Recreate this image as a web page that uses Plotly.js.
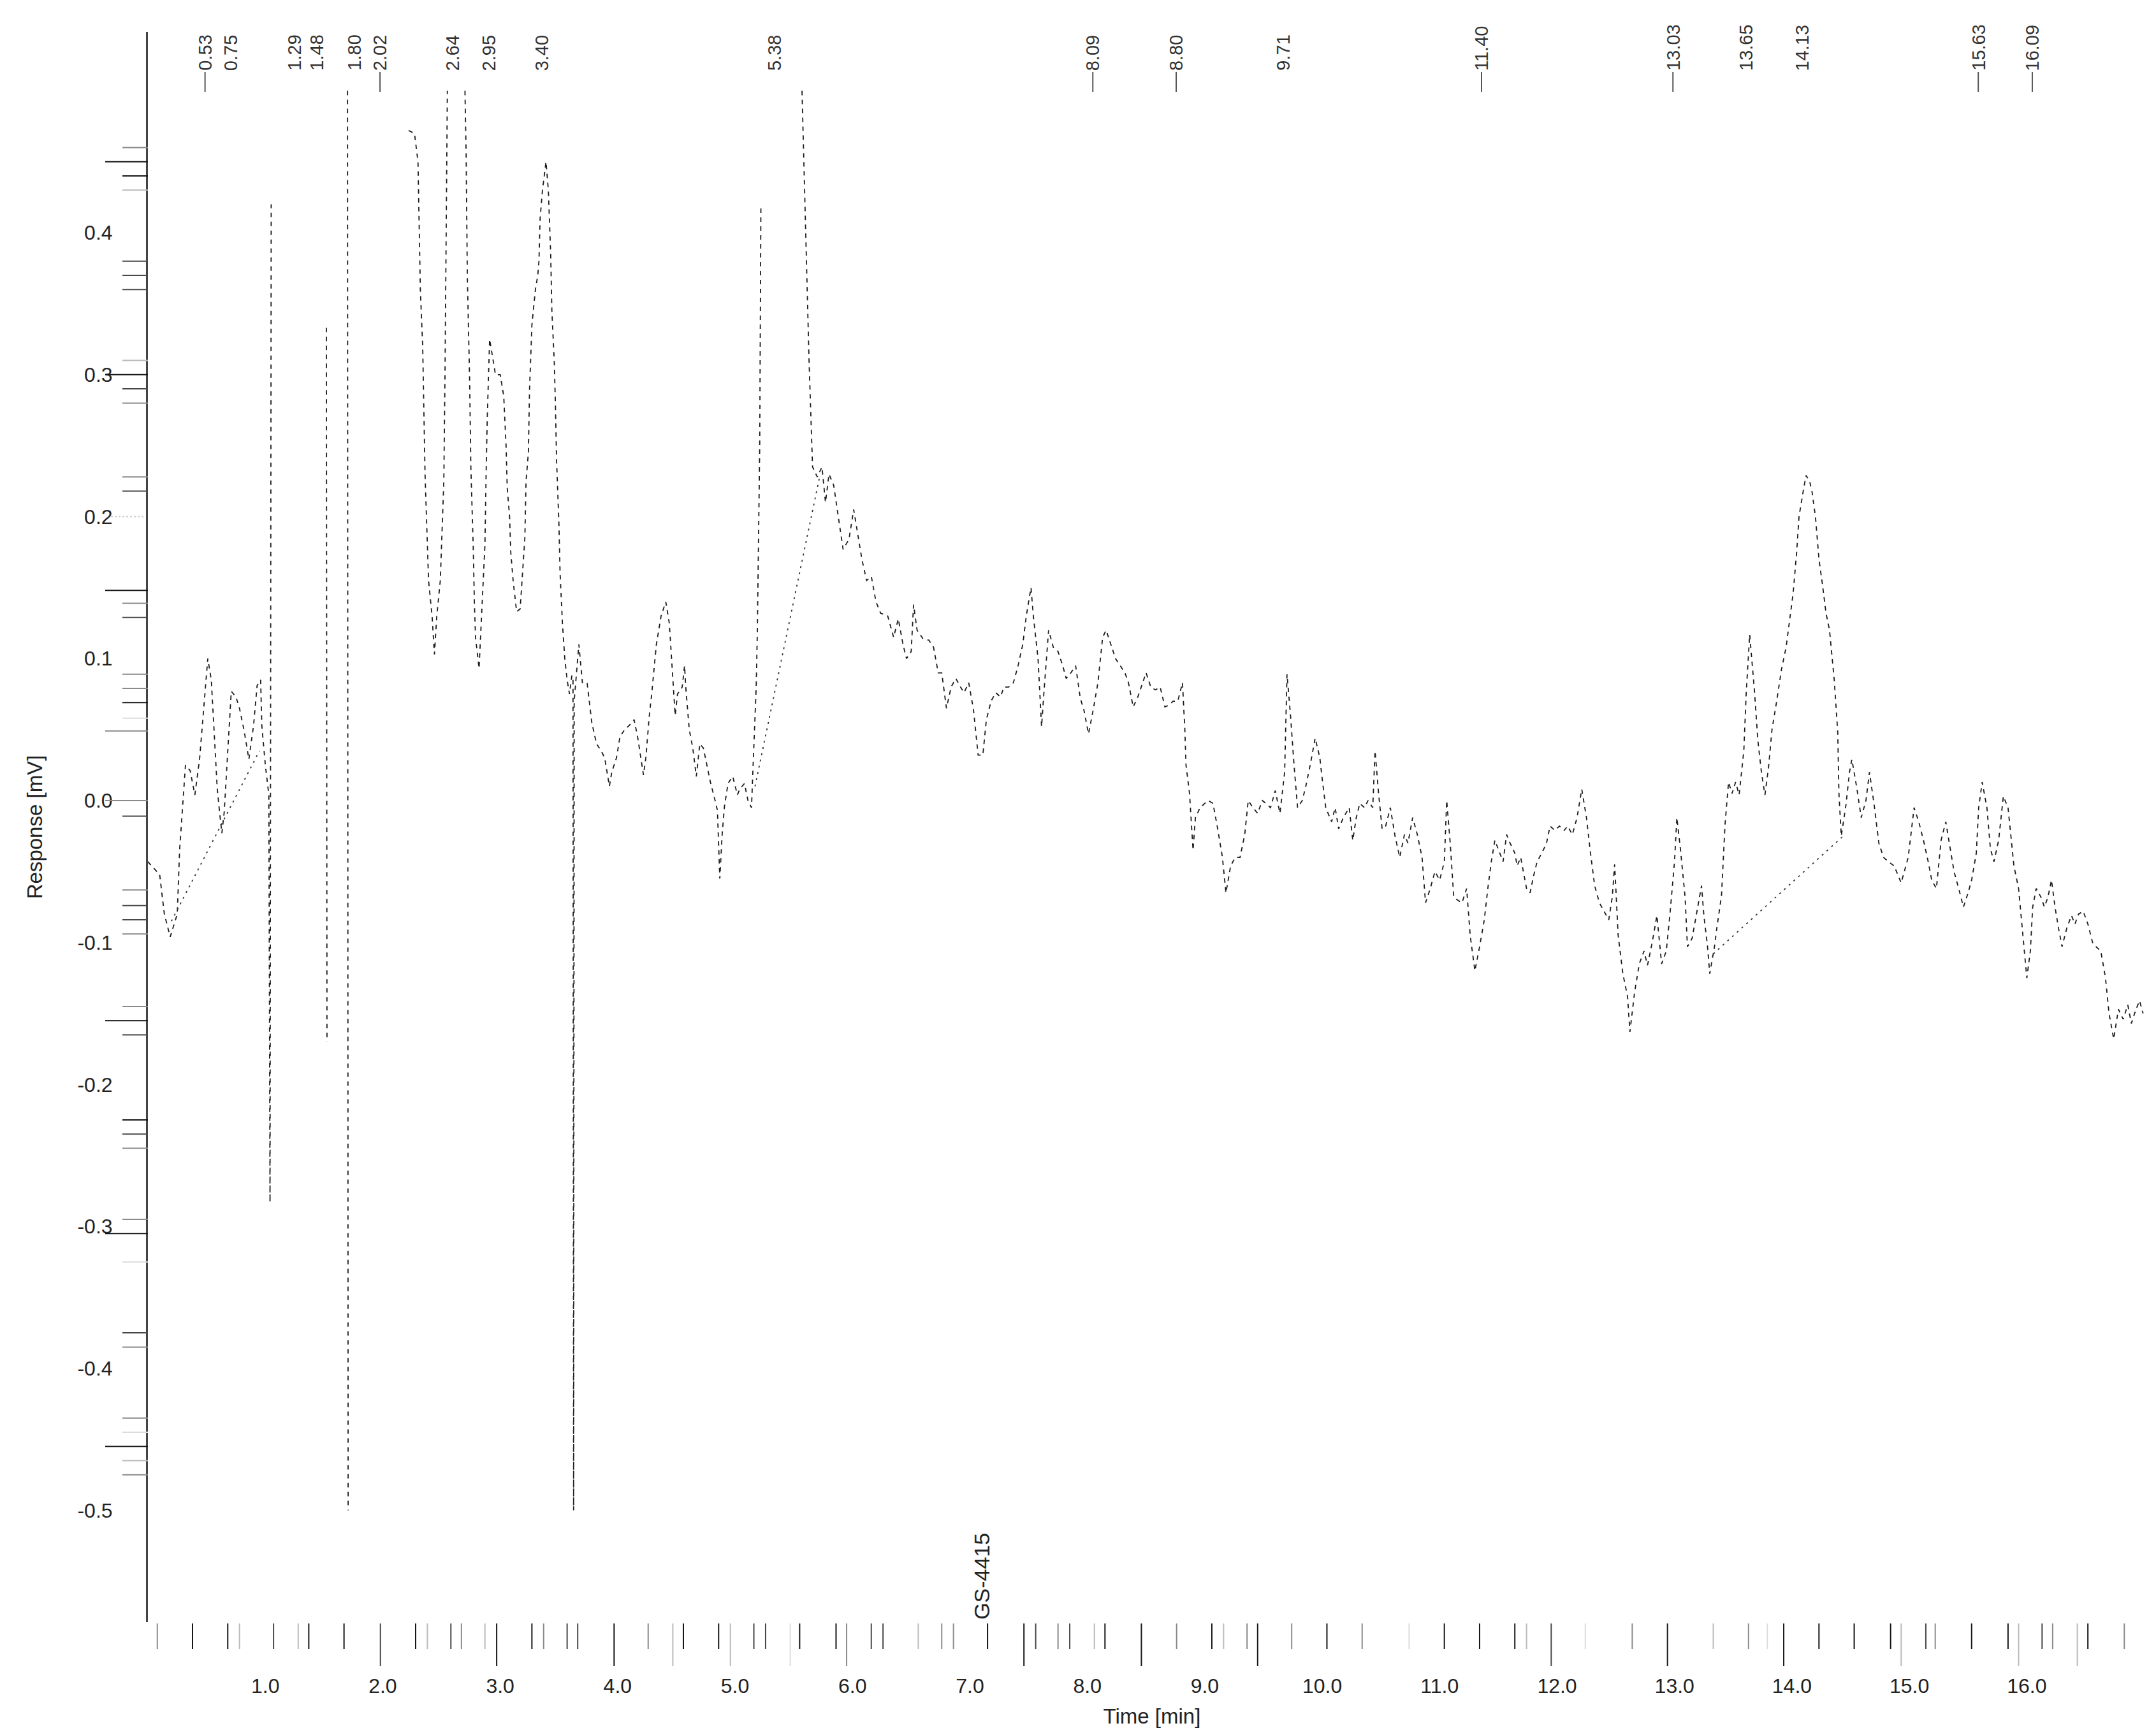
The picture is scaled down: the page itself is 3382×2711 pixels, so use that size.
<!DOCTYPE html>
<html>
<head>
<meta charset="utf-8">
<script src="https://cdn.plot.ly/plotly-3.0.1.min.js"></script>
<style>html,body{margin:0;padding:0;background:#fff;}#chart{width:3382px;height:2711px;}</style>
</head>
<body>
<div id="chart"></div>
<script>
// ---------- chromatogram trace: [time (min), response (mV)], null = gap ----------
const signal = [
[0.00,-0.043],[0.03,-0.046],[0.10,-0.052],[0.14,-0.080],[0.19,-0.096],[0.25,-0.080],[0.27,-0.035],[0.30,0.004],
[0.32,0.025],[0.36,0.021],[0.40,0.004],[0.44,0.029],[0.48,0.069],[0.51,0.100],[0.54,0.085],[0.56,0.053],
[0.59,0.009],[0.61,-0.008],[0.63,-0.023],[0.65,-0.008],[0.68,0.036],[0.71,0.077],[0.75,0.073],[0.78,0.065],
[0.82,0.049],[0.86,0.029],[0.90,0.053],[0.93,0.081],[0.96,0.085],[0.97,0.053],[1.00,0.025],[1.03,0.004],
[1.04,-0.283],[1.05,0.420],[1.06,null],
[1.52,0.333],[1.525,-0.170],[1.53,null],
[1.70,0.500],[1.705,-0.500],[1.71,null],
[2.22,0.472],[2.27,0.470],[2.30,0.450],[2.31,0.410],[2.32,0.360],[2.34,0.320],[2.35,0.270],[2.36,0.230],
[2.38,0.180],[2.39,0.155],[2.42,0.130],[2.44,0.103],[2.46,0.130],[2.49,0.155],[2.52,0.225],[2.53,0.300],
[2.55,0.500],[2.60,null],
[2.70,0.500],[2.71,0.455],[2.72,0.370],[2.74,0.295],[2.75,0.235],[2.77,0.180],[2.78,0.140],[2.79,0.115],
[2.82,0.093],[2.83,0.110],[2.85,0.140],[2.87,0.180],[2.88,0.230],[2.89,0.270],[2.91,0.325],[2.96,0.300],
[3.00,0.300],[3.03,0.285],[3.05,0.250],[3.06,0.220],[3.08,0.200],[3.09,0.175],[3.11,0.155],[3.14,0.133],
[3.17,0.135],[3.19,0.160],[3.21,0.185],[3.22,0.225],[3.24,0.245],[3.25,0.290],[3.27,0.335],[3.30,0.360],
[3.32,0.370],[3.33,0.380],[3.34,0.410],[3.36,0.430],[3.39,0.450],[3.41,0.430],[3.43,0.385],[3.44,0.345],
[3.46,0.310],[3.47,0.280],[3.48,0.240],[3.50,0.195],[3.51,0.160],[3.53,0.125],[3.55,0.100],[3.57,0.085],
[3.59,0.075],[3.61,0.088],[3.62,0.087],[3.625,-0.500],[3.63,0.070],[3.67,0.110],[3.70,0.083],[3.74,0.083],
[3.78,0.055],[3.82,0.040],[3.86,0.035],[3.89,0.030],[3.93,0.010],[3.95,0.020],[3.99,0.030],[4.02,0.045],
[4.06,0.050],[4.10,0.053],[4.14,0.057],[4.17,0.045],[4.20,0.030],[4.22,0.018],[4.24,0.030],[4.27,0.060],
[4.29,0.075],[4.31,0.092],[4.33,0.110],[4.37,0.130],[4.41,0.140],[4.44,0.125],[4.46,0.100],[4.49,0.060],
[4.51,0.075],[4.55,0.080],[4.57,0.095],[4.58,0.080],[4.61,0.050],[4.64,0.037],[4.67,0.017],[4.70,0.040],
[4.73,0.037],[4.76,0.025],[4.79,0.013],[4.83,0.000],[4.85,-0.007],[4.87,-0.055],[4.89,-0.024],[4.91,-0.004],
[4.94,0.012],[4.98,0.017],[5.02,0.004],[5.04,0.008],[5.08,0.012],[5.11,0.000],[5.14,-0.005],[5.15,0.017],
[5.16,0.040],[5.18,0.080],[5.19,0.120],[5.21,0.250],[5.22,0.420],[5.23,null],
[5.57,0.500],[5.60,0.400],[5.63,0.310],[5.66,0.235],[5.70,0.228],[5.74,0.235],[5.77,0.210],[5.80,0.230],
[5.84,0.222],[5.87,0.205],[5.92,0.177],[5.97,0.184],[6.01,0.205],[6.05,0.185],[6.08,0.170],[6.12,0.155],
[6.16,0.158],[6.20,0.140],[6.24,0.132],[6.30,0.130],[6.35,0.115],[6.39,0.128],[6.43,0.110],[6.46,0.100],
[6.50,0.105],[6.52,0.138],[6.55,0.120],[6.60,0.114],[6.65,0.113],[6.69,0.108],[6.73,0.090],[6.76,0.090],
[6.80,0.065],[6.84,0.080],[6.88,0.086],[6.92,0.080],[6.95,0.076],[6.99,0.083],[7.03,0.064],[7.07,0.032],
[7.11,0.032],[7.14,0.057],[7.18,0.070],[7.22,0.076],[7.26,0.073],[7.29,0.080],[7.33,0.080],[7.37,0.083],
[7.41,0.095],[7.45,0.110],[7.48,0.130],[7.52,0.150],[7.54,0.130],[7.58,0.100],[7.61,0.052],[7.63,0.076],
[7.67,0.120],[7.71,0.108],[7.75,0.105],[7.79,0.095],[7.82,0.086],[7.86,0.090],[7.90,0.095],[7.94,0.072],
[7.97,0.064],[8.01,0.047],[8.05,0.064],[8.09,0.083],[8.13,0.115],[8.16,0.120],[8.20,0.110],[8.24,0.100],
[8.28,0.095],[8.32,0.090],[8.35,0.083],[8.39,0.066],[8.43,0.073],[8.47,0.083],[8.50,0.090],[8.54,0.080],
[8.58,0.078],[8.62,0.080],[8.66,0.066],[8.69,0.067],[8.73,0.070],[8.77,0.070],[8.81,0.083],[8.83,0.050],
[8.84,0.025],[8.87,0.005],[8.90,-0.035],[8.92,-0.012],[8.96,-0.005],[9.00,-0.002],[9.03,0.000],[9.07,-0.002],
[9.11,-0.020],[9.15,-0.040],[9.18,-0.065],[9.22,-0.046],[9.26,-0.040],[9.30,-0.040],[9.34,-0.024],[9.37,0.000],
[9.41,-0.005],[9.45,-0.009],[9.49,0.000],[9.52,-0.002],[9.56,-0.005],[9.60,0.007],[9.64,-0.009],[9.68,0.020],
[9.70,0.089],[9.73,0.060],[9.76,0.025],[9.79,-0.005],[9.83,0.000],[9.86,0.010],[9.90,0.026],[9.94,0.044],
[9.98,0.030],[10.00,0.015],[10.03,-0.005],[10.08,-0.015],[10.11,-0.005],[10.14,-0.020],[10.18,-0.012],[10.23,-0.005],
[10.26,-0.028],[10.29,-0.012],[10.32,-0.002],[10.36,-0.005],[10.39,0.000],[10.43,-0.005],[10.45,0.035],[10.48,0.005],
[10.51,-0.020],[10.54,-0.018],[10.58,-0.005],[10.62,-0.025],[10.66,-0.040],[10.70,-0.024],[10.73,-0.030],[10.77,-0.012],
[10.81,-0.024],[10.85,-0.040],[10.88,-0.072],[10.92,-0.062],[10.96,-0.050],[11.00,-0.056],[11.04,-0.043],[11.06,0.000],
[11.09,-0.030],[11.12,-0.068],[11.15,-0.070],[11.19,-0.072],[11.23,-0.062],[11.26,-0.095],[11.30,-0.120],[11.34,-0.103],
[11.38,-0.084],[11.41,-0.062],[11.44,-0.043],[11.47,-0.028],[11.51,-0.037],[11.54,-0.043],[11.57,-0.024],[11.60,-0.030],
[11.64,-0.037],[11.66,-0.046],[11.69,-0.040],[11.74,-0.062],[11.77,-0.065],[11.80,-0.053],[11.83,-0.043],[11.87,-0.037],
[11.91,-0.030],[11.94,-0.018],[11.98,-0.021],[12.02,-0.018],[12.06,-0.021],[12.09,-0.018],[12.13,-0.024],[12.17,-0.012],
[12.21,0.008],[12.25,-0.012],[12.28,-0.034],[12.32,-0.060],[12.36,-0.072],[12.40,-0.078],[12.44,-0.084],[12.47,-0.068],
[12.49,-0.045],[12.52,-0.095],[12.56,-0.122],[12.60,-0.138],[12.62,-0.163],[12.66,-0.135],[12.70,-0.115],[12.74,-0.106],
[12.77,-0.116],[12.81,-0.100],[12.85,-0.081],[12.89,-0.115],[12.93,-0.106],[12.96,-0.081],[13.00,-0.043],[13.02,-0.012],
[13.05,-0.034],[13.09,-0.068],[13.11,-0.103],[13.15,-0.097],[13.19,-0.078],[13.23,-0.060],[13.25,-0.081],[13.28,-0.102],
[13.30,-0.122],[13.34,-0.103],[13.36,-0.090],[13.40,-0.067],[13.43,-0.017],[13.46,0.013],[13.49,0.005],[13.52,0.013],
[13.55,0.004],[13.59,0.035],[13.61,0.075],[13.64,0.117],[13.68,0.078],[13.71,0.042],[13.74,0.020],[13.77,0.004],
[13.80,0.023],[13.83,0.050],[13.87,0.070],[13.91,0.092],[13.95,0.108],[13.98,0.127],[14.01,0.146],[14.04,0.175],
[14.06,0.200],[14.10,0.220],[14.12,0.229],[14.15,0.225],[14.17,0.218],[14.20,0.200],[14.23,0.170],[14.26,0.152],
[14.29,0.132],[14.32,0.120],[14.36,0.085],[14.39,0.048],[14.40,0.005],[14.42,-0.025],[14.46,-0.003],[14.49,0.020],
[14.51,0.029],[14.55,0.010],[14.59,-0.012],[14.63,0.000],[14.66,0.020],[14.70,-0.003],[14.74,-0.030],[14.78,-0.040],
[14.82,-0.043],[14.87,-0.046],[14.93,-0.058],[14.99,-0.040],[15.04,-0.005],[15.08,-0.015],[15.12,-0.028],[15.16,-0.043],
[15.19,-0.056],[15.23,-0.062],[15.27,-0.028],[15.31,-0.015],[15.34,-0.030],[15.38,-0.050],[15.42,-0.062],[15.46,-0.075],
[15.50,-0.065],[15.53,-0.056],[15.57,-0.037],[15.59,-0.005],[15.62,0.013],[15.66,-0.005],[15.69,-0.034],[15.72,-0.043],
[15.76,-0.028],[15.80,0.003],[15.84,-0.005],[15.87,-0.030],[15.89,-0.046],[15.93,-0.062],[15.95,-0.081],[15.97,-0.100],
[16.00,-0.125],[16.03,-0.106],[16.05,-0.075],[16.08,-0.062],[16.12,-0.068],[16.15,-0.075],[16.18,-0.068],[16.21,-0.056],
[16.24,-0.075],[16.27,-0.090],[16.30,-0.103],[16.34,-0.090],[16.38,-0.081],[16.41,-0.087],[16.44,-0.080],[16.48,-0.078],
[16.52,-0.087],[16.56,-0.100],[16.59,-0.103],[16.63,-0.106],[16.67,-0.125],[16.70,-0.150],[16.74,-0.168],[16.78,-0.147],
[16.82,-0.154],[16.86,-0.144],[16.89,-0.157],[16.93,-0.147],[16.96,-0.141],[16.99,-0.150]
];

// ---------- straight baseline segments: [time, response], null = gap ----------
const baseline = [
[0.20,-0.085],[0.95,0.035],[0.96,null],
[5.17,0.010],[5.72,0.228],[5.73,null],
[13.33,-0.108],[14.45,-0.024]
];

// ---------- peak labels (retention times) ----------
const peakTimes  = [0.53,0.75,1.29,1.48,1.80,2.02,2.64,2.95,3.40,5.38,8.09,8.80,9.71,11.40,13.03,13.65,14.13,15.63,16.09];
const peakLeader = [1,0,0,0,0,1,0,0,0,0,1,1,0,1,1,0,0,1,1];

// ---------- axis labels ----------
const xLabelVals = [1,2,3,4,5,6,7,8,9,10,11,12,13,14,15,16];
const xLabelText = ['1.0','2.0','3.0','4.0','5.0','6.0','7.0','8.0','9.0','10.0','11.0','12.0','13.0','14.0','15.0','16.0'];
const yLabelVals = [0.4,0.3,0.2,0.1,0.0,-0.1,-0.2,-0.3,-0.4,-0.5];
const yLabelText = ['0.4','0.3','0.2','0.1','0.0','-0.1','-0.2','-0.3','-0.4','-0.5'];

// ---------- irregular axis tick marks (value, shade) ----------
const xShortTicks = [0.08,0.38,0.68,0.78,1.07,1.28,1.37,1.67,2.28,2.38,2.58,2.67,2.87,3.27,3.37,3.57,3.66,4.26,4.56,4.86,
  5.16,5.26,5.55,5.86,6.16,6.26,6.56,6.76,6.86,7.15,7.56,7.75,7.85,8.06,8.15,8.76,9.06,9.16,9.36,9.74,10.04,10.34,10.74,
  11.04,11.34,11.64,11.74,12.24,12.64,13.33,13.63,13.79,14.23,14.53,14.84,15.14,15.22,15.53,15.84,16.13,16.22,16.52,16.83];
const xShortShade = ['g','k','k','l','d','l','k','k','k','l','d','g','l','k','g','d','d','g','k','k',
  'd','d','k','k','d','d','l','g','g','k','d','g','d','l','k','g','k','l','g','g','k','g','v',
  'k','k','k','l','v','g','l','g','v','k','k','k','d','g','k','k','d','g','k','g'];
const xLongTicks = [1.98,2.97,3.97,4.47,4.96,5.47,5.95,7.46,8.46,9.45,11.95,12.94,13.93,14.93,15.93,16.43];
const xLongShade = ['d','k','k','l','l','v','g','k','k','k','d','k','k','l','l','l'];

const yShortTicks = [0.46,0.44,0.43,0.38,0.37,0.36,0.31,0.29,0.28,0.228,0.218,0.139,0.129,0.089,0.079,0.069,0.058,
  -0.011,-0.063,-0.074,-0.084,-0.094,-0.145,-0.165,-0.225,-0.235,-0.245,-0.295,-0.325,-0.375,-0.385,-0.435,-0.445,-0.465,-0.475];
const yShortShade = ['g','k','l','d','d','d','l','d','g','g','d','g','d','g','g','k','v',
  'd','g','d','d','g','g','d','k','d','g','g','v','d','g','g','v','l','g'];
const yLongTicks = [0.45,0.30,0.148,0.049,0.0,-0.155,-0.305,-0.455];
const yLongShade = ['k','k','k','g','g','k','k','k'];

const shadeColor = {k:'#151515', d:'#484848', g:'#8a8a8a', l:'#bababa', v:'#dcdcdc'};

// ---------- build ----------
const traces = [
  {x: signal.map(p=>p[0]), y: signal.map(p=>p[1]), type:'scatter', mode:'lines', connectgaps:false,
   line:{color:'#1c1c1c', width:1.8, dash:'7px,7px'}, hoverinfo:'skip'},
  {x: baseline.map(p=>p[0]), y: baseline.map(p=>p[1]), type:'scatter', mode:'lines', connectgaps:false,
   line:{color:'#333', width:1.8, dash:'3px,7px'}, hoverinfo:'skip'}
];

const shapes = [];
const SHORT = 40, LONG = 67;
xShortTicks.forEach((t,i)=>shapes.push({type:'line', xref:'x', yref:'paper', ysizemode:'pixel', yanchor:0,
  x0:t, x1:t, y0:-2, y1:-2-SHORT, line:{color:shadeColor[xShortShade[i]], width:2}}));
xLongTicks.forEach((t,i)=>shapes.push({type:'line', xref:'x', yref:'paper', ysizemode:'pixel', yanchor:0,
  x0:t, x1:t, y0:-2, y1:-2-LONG, line:{color:shadeColor[xLongShade[i]], width:2}}));
yShortTicks.forEach((v,i)=>shapes.push({type:'line', xref:'paper', yref:'y', xsizemode:'pixel', xanchor:0,
  x0:-SHORT, x1:0, y0:v, y1:v, line:{color:shadeColor[yShortShade[i]], width:2}}));
yLongTicks.forEach((v,i)=>shapes.push({type:'line', xref:'paper', yref:'y', xsizemode:'pixel', xanchor:0,
  x0:-LONG, x1:0, y0:v, y1:v, line:{color:shadeColor[yLongShade[i]], width:2}}));
// faint dotted mark at 0.2
shapes.push({type:'line', xref:'paper', yref:'y', xsizemode:'pixel', xanchor:0, x0:-58, x1:-4, y0:0.2, y1:0.2,
  line:{color:'#cfcfcf', width:2, dash:'3px,3px'}});
// leader lines under some peak labels
const LABEL_SHIFT = -8;
peakTimes.forEach((t,i)=>{ if(peakLeader[i]) shapes.push({type:'line', xref:'x', yref:'paper',
  xsizemode:'pixel', xanchor:t, x0:LABEL_SHIFT, x1:LABEL_SHIFT, ysizemode:'pixel', yanchor:1, y0:-63, y1:-94,
  line:{color:'#555', width:2}}); });

const annotations = peakTimes.map(t=>({x:t, xref:'x', y:1, yref:'paper', text:t.toFixed(2), textangle:-90,
  showarrow:false, xanchor:'center', yanchor:'bottom', yshift:-63, xshift:LABEL_SHIFT,
  font:{size:29, color:'#333'}}));
annotations.push({x:7.10, xref:'x', y:0, yref:'paper', text:'GS-4415', textangle:-90, showarrow:false,
  xanchor:'center', yanchor:'bottom', yshift:2, font:{size:34, color:'#222'}});

const layout = {
  width:3382, height:2711,
  margin:{l:232, r:0, t:50, b:166, pad:0},
  paper_bgcolor:'#fff', plot_bgcolor:'#fff', showlegend:false,
  font:{family:'"Liberation Sans", Arial, Helvetica, sans-serif', color:'#222'},
  xaxis:{range:[0,17.1], showgrid:false, zeroline:false, showline:false,
    tickmode:'array', tickvals:xLabelVals, ticktext:xLabelText,
    ticks:'outside', ticklen:72, tickcolor:'rgba(0,0,0,0)', tickfont:{size:32},
    title:{text:'Time [min]', font:{size:33}, standoff:18}},
  yaxis:{range:[-0.5788,0.5415], showgrid:false, zeroline:false, showline:true, linecolor:'#444', linewidth:3,
    tickmode:'array', tickvals:yLabelVals, ticktext:yLabelText,
    ticks:'outside', ticklen:46, tickcolor:'rgba(0,0,0,0)', tickfont:{size:32},
    title:{text:'Response [mV]', font:{size:33}, standoff:45}},
  shapes: shapes,
  annotations: annotations
};

Plotly.newPlot('chart', traces, layout, {displayModeBar:false, staticPlot:true});
</script>
</body>
</html>
